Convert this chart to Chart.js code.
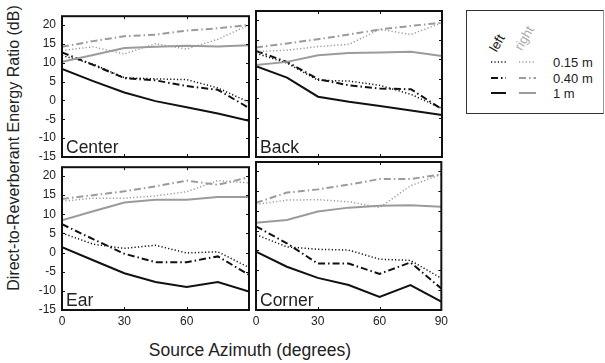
<!DOCTYPE html>
<html>
<head>
<meta charset="utf-8">
<script src="https://cdn.jsdelivr.net/npm/chart.js@4.4.1/dist/chart.umd.min.js"></script>
<style>
  body { margin: 0; background: #fff; }
  #wrap { position: relative; width: 605px; height: 363px; overflow: hidden; font-family: "Liberation Sans", Arial, sans-serif; color: #222; }
  canvas { position: absolute; }
  .ytitle { position: absolute; left: 14px; top: 148px; font-size: 16px; white-space: nowrap; transform: translate(-50%, -50%) rotate(-90deg); }
  .xtitle { position: absolute; left: 250px; top: 342px; font-size: 17.5px; line-height: 17.5px; white-space: nowrap; transform: translateX(-50%); }
  #legend { position: absolute; left: 466px; top: 10px; width: 138px; height: 104px; border: 1px solid #333; border-right-color: #999; box-sizing: border-box; }
  .rot { position: absolute; font-size: 13px; white-space: nowrap; transform: translate(-50%, -50%) rotate(-60deg); }
  .lt { position: absolute; left: 86px; font-size: 13px; line-height: 13px; }
</style>
</head>
<body>
<div id="wrap">
  <div class="ytitle">Direct-to-Reverberant Energy Ratio (dB)</div>
  <div class="xtitle">Source Azimuth (degrees)</div>
  <div id="legend">
    <span class="rot" style="left:30px; top:32px; color:#111;">left</span>
    <span class="rot" style="left:57px; top:27px; color:#aaa;">right</span>
    <svg width="136" height="102" style="position:absolute; left:0; top:0;">
      <line x1="24" y1="51" x2="39" y2="51" stroke="#111" stroke-width="1.5" stroke-dasharray="1.2 2.2"/>
      <line x1="52" y1="51" x2="69" y2="51" stroke="#9b9b9b" stroke-width="1.5" stroke-dasharray="1.2 2.2"/>
      <line x1="24" y1="67" x2="39" y2="67" stroke="#111" stroke-width="2" stroke-dasharray="7 3 1.5 3"/>
      <line x1="52" y1="67" x2="69" y2="67" stroke="#9b9b9b" stroke-width="2" stroke-dasharray="7 3 1.5 3"/>
      <line x1="24" y1="82" x2="39" y2="82" stroke="#111" stroke-width="2"/>
      <line x1="52" y1="82" x2="69" y2="82" stroke="#9b9b9b" stroke-width="2"/>
    </svg>
    <span class="lt" style="top:45px;">0.15 m</span>
    <span class="lt" style="top:61px;">0.40 m</span>
    <span class="lt" style="top:76px;">1 m</span>
  </div>
</div>
<script>
// azimuth (degrees) of each measurement
var azimuth = [0, 15, 30, 45, 60, 75, 90];
var xTickValues = [0, 30, 60, 90];
var yTickValues = [-15, -10, -5, 0, 5, 10, 15, 20];

// DRR values (dB), left / right ear, source distance 0.15 m, 0.40 m, 1 m
var centerLeft015 = [11.9, 9.6, 6.0, 5.7, 5.5, 3.3, -0.5];
var centerLeft040 = [12.7, 9.4, 5.9, 5.3, 3.8, 2.8, -2.0];
var centerLeft100 = [8.3, 5.1, 2.1, -0.2, -1.8, -3.5, -5.4];
var centerRight015 = [13.2, 14.2, 12.3, 15.0, 13.6, 16.2, 20.0];
var centerRight040 = [14.2, 15.7, 17.0, 17.4, 18.5, 19.1, 20.0];
var centerRight100 = [10.2, 12.0, 13.9, 14.2, 14.5, 14.3, 14.6];

var backLeft015 = [11.5, 9.0, 4.6, 4.4, 3.3, 1.0, -2.6];
var backLeft040 = [12.1, 9.3, 4.9, 3.3, 2.5, 2.3, -2.8];
var backLeft100 = [8.2, 5.3, 0.4, -0.9, -2.0, -3.1, -4.3];
var backRight015 = [11.9, 12.3, 13.2, 13.8, 17.6, 16.3, 19.3];
var backRight040 = [13.0, 14.0, 15.1, 16.3, 17.6, 18.5, 19.3];
var backRight100 = [8.5, 9.3, 11.0, 11.6, 11.7, 11.9, 10.8];

var earLeft015 = [5.1, 2.2, 1.1, 1.9, -0.1, 0.2, -3.9];
var earLeft040 = [7.4, 3.5, -0.3, -2.5, -2.5, -1.0, -5.8];
var earLeft100 = [1.4, -2.0, -5.4, -7.7, -9.0, -7.7, -10.2];
var earRight015 = [13.4, 14.2, 14.2, 14.8, 15.9, 18.8, 18.2];
var earRight040 = [14.0, 15.0, 16.0, 17.3, 18.8, 17.7, 19.7];
var earRight100 = [8.4, 10.8, 13.1, 13.8, 13.8, 14.5, 14.5];

var cornerLeft015 = [4.0, 0.9, 0.3, 0.1, -2.2, -2.5, -7.0];
var cornerLeft040 = [6.1, 1.8, -3.3, -3.3, -5.9, -3.0, -9.6];
var cornerLeft100 = [-0.3, -4.1, -6.9, -8.7, -11.7, -8.7, -12.9];
var cornerRight015 = [11.6, 12.7, 12.8, 12.3, 10.8, 16.3, 19.2];
var cornerRight040 = [12.0, 14.6, 15.4, 16.6, 18.0, 18.0, 19.2];
var cornerRight100 = [7.0, 7.7, 9.8, 10.8, 11.3, 11.4, 11.0];

var BLACK = "#111";
var GRAY = "#9b9b9b";
var FONT = '"Liberation Sans", Arial, sans-serif';

function makeSet(values, color, kind) {
  var dash = kind == "near" ? [1.2, 2.2] : kind == "mid" ? [7, 3, 1.5, 3] : [];
  return {
    data: values.map(function (v, i) { return { x: azimuth[i], y: v }; }),
    borderColor: color,
    borderWidth: kind == "near" ? 1.5 : 2,
    borderDash: dash,
    pointRadius: 0,
    tension: 0,
    fill: false
  };
}

var framePlugin = {
  id: "frame",
  afterDatasetsDraw: function (chart, args, opts) {
    var ctx = chart.ctx, a = chart.chartArea;
    var x = chart.scales.x, y = chart.scales.y;
    ctx.save();
    ctx.strokeStyle = BLACK;
    ctx.lineWidth = 1;
    ctx.beginPath();
    yTickValues.forEach(function (v) {
      var py = Math.round(y.getPixelForValue(v)) + 0.5;
      ctx.moveTo(a.left, py); ctx.lineTo(a.left + 3, py);
      ctx.moveTo(a.right - 3, py); ctx.lineTo(a.right, py);
    });
    [30, 60].forEach(function (v) {
      var px = Math.round(x.getPixelForValue(v)) + 0.5;
      ctx.moveTo(px, a.top); ctx.lineTo(px, a.top + 3);
      ctx.moveTo(px, a.bottom - 3); ctx.lineTo(px, a.bottom);
    });
    ctx.stroke();
    ctx.lineWidth = 2;
    ctx.strokeRect(a.left, a.top, a.right - a.left, a.bottom - a.top);
    ctx.fillStyle = "#222";
    ctx.font = "17.5px " + FONT;
    ctx.textBaseline = "alphabetic";
    ctx.fillText(opts.label, a.left + 4, a.bottom - 4);
    ctx.restore();
  }
};

var panels = [
  { label: "Center", left: 62, top: 11, w: 187, h: 146, yLabels: true, xLabels: null,
    sets: [centerRight015, centerRight040, centerRight100, centerLeft015, centerLeft040, centerLeft100] },
  { label: "Back", left: 256, top: 11, w: 186, h: 146, yLabels: false, xLabels: null,
    sets: [backRight015, backRight040, backRight100, backLeft015, backLeft040, backLeft100] },
  { label: "Ear", left: 62, top: 162, w: 187, h: 148, yLabels: true, xLabels: [0, 30, 60],
    sets: [earRight015, earRight040, earRight100, earLeft015, earLeft040, earLeft100] },
  { label: "Corner", left: 256, top: 162, w: 186, h: 148, yLabels: false, xLabels: xTickValues,
    sets: [cornerRight015, cornerRight040, cornerRight100, cornerLeft015, cornerLeft040, cornerLeft100] }
];

var PADL = 40, PADT = 8, PADR = 10, PADB = 24;
var kinds = ["near", "mid", "far", "near", "mid", "far"];

panels.forEach(function (p) {
  var cv = document.createElement("canvas");
  cv.width = p.w + PADL + PADR;
  cv.height = p.h + PADT + PADB;
  cv.style.left = (p.left - PADL) + "px";
  cv.style.top = (p.top - PADT) + "px";
  cv.style.width = cv.width + "px";
  cv.style.height = cv.height + "px";
  document.getElementById("wrap").appendChild(cv);

  new Chart(cv.getContext("2d"), {
    type: "line",
    data: {
      datasets: p.sets.map(function (s, i) {
        return makeSet(s, i < 3 ? GRAY : BLACK, kinds[i]);
      })
    },
    plugins: [framePlugin],
    options: {
      responsive: false,
      animation: false,
      devicePixelRatio: 1,
      layout: { padding: { left: 0, top: PADT, right: PADR, bottom: 0 } },
      plugins: {
        legend: { display: false },
        tooltip: { enabled: false },
        frame: { label: p.label }
      },
      scales: {
        x: {
          type: "linear",
          min: 0,
          max: 90,
          grid: { display: false, drawTicks: false },
          border: { display: false },
          afterBuildTicks: function (scale) {
            scale.ticks = (p.xLabels || xTickValues).map(function (v) { return { value: v }; });
          },
          afterFit: function (scale) { scale.height = PADB; },
          ticks: {
            display: !!p.xLabels,
            padding: 4,
            maxRotation: 0,
            autoSkip: false,
            color: "#222",
            font: { family: FONT, size: 12 }
          }
        },
        y: {
          min: -15,
          max: 22.3,
          grid: { display: false, drawTicks: false },
          border: { display: false },
          afterBuildTicks: function (scale) {
            scale.ticks = yTickValues.map(function (v) { return { value: v }; });
          },
          afterFit: function (scale) { scale.width = PADL; },
          ticks: {
            display: p.yLabels,
            padding: 6,
            autoSkip: false,
            color: "#222",
            font: { family: FONT, size: 12 }
          }
        }
      }
    }
  });
});
</script>
</body>
</html>
